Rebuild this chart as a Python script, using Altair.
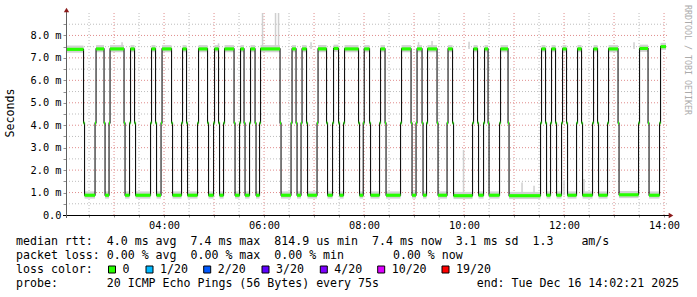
import altair as alt
import pandas as pd

# ---------------- data ----------------
# time in minutes since midnight (Tue Dec 16 2025); window 02:02:21 - 14:02:21
T_START = 122.35
T_END = 842.35

# moments where the median RTT switches between its two levels
SWITCH_MIN = [144, 157.8, 168.6, 174.6, 192.6, 199.2, 205.2, 224.4, 230.4, 237,
              249.6, 261.6, 267.6, 280.8, 292.8, 300, 306, 312, 324.6, 331.2,
              336.6, 343.2, 349.8, 355.2, 379.8, 393, 399, 405, 411.6, 424.2,
              435.6, 442.8, 450, 456, 474, 479.6, 487.2, 499.2, 505.8, 524.4,
              537, 543, 550.2, 555.6, 568.2, 580.2, 586.8, 610.8, 616.8, 624,
              629.4, 643.2, 653.4, 692.4, 698.4, 704.4, 710.4, 717.6, 723.6, 735.6,
              741.6, 754.8, 760.8, 772.8, 785.4, 810, 821.4, 835.2]

# median RTT (ms) of each steady period between switches
LEVELS = [7.38, 0.88, 7.4, 0.88, 7.4, 0.88, 7.4, 0.88, 7.4, 0.88,
          7.4, 0.88, 7.4, 0.88, 7.4, 0.88, 7.4, 0.88, 7.4, 0.88,
          7.4, 0.88, 7.4, 0.88, 7.4, 0.88, 7.4, 0.88, 7.4, 0.88,
          7.4, 0.88, 7.42, 0.88, 7.4, 0.88, 7.4, 0.88, 7.4, 0.88,
          7.4, 0.88, 7.4, 0.88, 7.4, 0.88, 7.4, 0.86, 7.4, 0.88,
          7.4, 0.88, 7.4, 0.86, 7.4, 0.88, 7.4, 0.88, 7.4, 0.88,
          7.4, 0.88, 7.4, 0.88, 7.4, 0.9, 7.42, 0.88, 7.5]

# the single sample in the middle of each switch
TRANSIT_MS = 4.1

# isolated outliers of the ping smoke: time, from, to (ms)
SPIKE_MIN = [189.6, 305.4, 358.2, 373.8, 377.4, 416.4, 545.4, 561.6, 606.0, 599.4, 669.6, 684.0, 720.0, 744.0, 804.0]
SPIKE_FROM = [7.4, 7.4, 7.4, 7.4, 7.4, 7.4, 7.4, 7.4, 7.4, 0.88, 0.88, 0.88, 0.88, 0.88, 7.4]
SPIKE_TO = [7.7, 7.65, 9.0, 9.0, 9.0, 7.7, 7.7, 7.75, 7.72, 2.9, 1.45, 1.3, 1.55, 1.6, 7.7]

X_TICK_MIN = list(range(150, 841, 30))
Y_TICK_MS = [i * 0.5 for i in range(18)]

LEGEND_LINES = [
    "median rtt:  4.0 ms avg  7.4 ms max  814.9 us min  7.4 ms now  3.1 ms sd  1.3    am/s",
    "packet loss: 0.00 % avg  0.00 % max  0.00 % min       0.00 % now",
    "loss color:",
    "probe:       20 ICMP Echo Pings (56 Bytes) every 75s              end: Tue Dec 16 14:02:21 2025",
]
LOSS_LABELS = ["0", "1/20", "2/20", "3/20", "4/20", "10/20", "19/20"]
LOSS_COLORS = ["#26ff00", "#00b8ff", "#0059ff", "#5e00ff", "#7e00ff", "#dd00ff", "#ff0000"]

# ---------------- layout / style ----------------
W, H = 600, 202
MONO = "DejaVu Sans Mono"
HALF = 0.6  # half of one pixel column (minutes)

bounds = [T_START] + SWITCH_MIN + [T_END]
seg_rows, mid_rows = [], []
for i, lvl in enumerate(LEVELS):
    s = bounds[i] + (HALF if i > 0 else 0)
    e = bounds[i + 1] - (HALF if i < len(LEVELS) - 1 else 0)
    seg_rows.append(dict(t0=s, t1=e, lvl=lvl))
for t in SWITCH_MIN:
    mid_rows.append(dict(t0=t - HALF, t1=t + HALF, lvl=TRANSIT_MS))
line_rows = []
for i, seg in enumerate(seg_rows):
    line_rows.append(dict(t=seg["t0"], v=seg["lvl"]))
    if i < len(mid_rows):
        line_rows.append(dict(t=mid_rows[i]["t0"], v=TRANSIT_MS))
line_rows.append(dict(t=T_END, v=LEVELS[-1]))

segs = pd.DataFrame(seg_rows)
mids = pd.DataFrame(mid_rows)
green = pd.concat([segs, mids], ignore_index=True)
line_df = pd.DataFrame(line_rows)
spikes = pd.DataFrame(dict(t=SPIKE_MIN, a=SPIKE_FROM, b=SPIKE_TO))

xs = alt.Scale(domain=[T_START, T_END], nice=False, zero=False)
ys = alt.Scale(domain=[0, 9], nice=False, zero=False)
ONE = pd.DataFrame({"k": [0]})

x_axis = alt.Axis(values=X_TICK_MIN, title=None, grid=False, domain=False,
                  labelExpr="datum.value % 120 == 0 ? (datum.value < 600 ? '0' : '') + floor(datum.value / 60) + ':00' : ''",
                  tickSize=2, tickColor="#909090", labelFont=MONO, labelFontSize=10.3,
                  labelColor="#000000", labelPadding=3, labelFlush=False, labelOverlap=False)
y_axis = alt.Axis(values=Y_TICK_MS, title=None, grid=False, domain=False,
                  labelExpr="datum.value == 0 ? '0.0\u00a0\u00a0' : (datum.value % 1 == 0 ? format(datum.value, '.1f') + ' m' : '')",
                  tickSize=3, tickColor="#909090", labelFont=MONO, labelFontSize=10.3,
                  labelColor="#000000", labelPadding=2, labelOverlap=False)

def X(f):
    return alt.X(f, scale=xs, axis=x_axis)

def Y(f):
    return alt.Y(f, scale=ys, axis=y_axis)

# grid
vmin = pd.DataFrame({"t": [m for m in X_TICK_MIN if m % 60 != 0]})
vmaj = pd.DataFrame({"t": [m for m in X_TICK_MIN if m % 60 == 0]})
hmin = pd.DataFrame({"v": [v for v in Y_TICK_MS if v % 1 != 0]})
hmaj = pd.DataFrame({"v": [v for v in Y_TICK_MS if v % 1 == 0 and v > 0]})

def vgrid(df, color):
    return alt.Chart(df).mark_rule(color=color, strokeWidth=1, strokeDash=[1, 2]).encode(
        x=X("t:Q"), y=alt.value(0), y2=alt.value(H))

def hgrid(df, color):
    return alt.Chart(df).mark_rule(color=color, strokeWidth=1, strokeDash=[1, 2]).encode(
        y=Y("v:Q"), x=alt.value(0), x2=alt.value(W + 2))

grid = [vgrid(vmin, "#bdbdbd"), vgrid(vmaj, "#e08c8c"), hgrid(hmin, "#bdbdbd"), hgrid(hmaj, "#e08c8c")]

smoke = alt.Chart(segs).transform_calculate(
    lo="datum.lvl - 0.15", hi="datum.lvl + 0.17"
).mark_rect(color="#d2d2d2").encode(x=X("t0:Q"), x2="t1:Q", y=Y("lo:Q"), y2="hi:Q")

spike = alt.Chart(spikes).mark_rule(color="#cfcfcf", strokeWidth=1.5).encode(
    x=X("t:Q"), y=Y("a:Q"), y2="b:Q")

median = alt.Chart(line_df).mark_line(interpolate="step-after", color="#111111", strokeWidth=1.1).encode(
    x=X("t:Q"), y=Y("v:Q"))

loss = alt.Chart(green).transform_calculate(
    lo="datum.lvl - 0.07", hi="datum.lvl + 0.07"
).mark_rect(color=LOSS_COLORS[0]).encode(x=X("t0:Q"), x2="t1:Q", y=Y("lo:Q"), y2="hi:Q")

# axes lines and arrows
deco = [
    alt.Chart(ONE).mark_rule(color="#000000", strokeWidth=1).encode(
        x=alt.value(-3), x2=alt.value(W + 4), y=alt.value(H + 0.5)),
    alt.Chart(ONE).mark_rule(color="#606060", strokeWidth=1).encode(
        x=alt.value(0.5), y=alt.value(-2), y2=alt.value(H + 3)),
    alt.Chart(ONE).mark_point(shape="triangle-up", filled=True, color="#8b1a1a", size=28, opacity=1).encode(
        x=alt.value(0.5), y=alt.value(-3)),
    alt.Chart(ONE).mark_point(shape="triangle-right", filled=True, color="#8b1a1a", size=28, opacity=1).encode(
        x=alt.value(W + 5), y=alt.value(H + 0.5)),
]

def txt(s, x, y, size=11.6, color="#000000", angle=None, align="left", baseline="alphabetic"):
    kw = dict(font=MONO, fontSize=size, color=color, align=align, baseline=baseline)
    if angle is not None:
        kw["angle"] = angle
    return alt.Chart(ONE).mark_text(**kw).encode(
        x=alt.value(x), y=alt.value(y), text=alt.value(s.replace(" ", "\u00a0")))

texts = []
for i, line in enumerate(LEGEND_LINES):
    texts.append(txt(line, -50, 232.3 + 14 * i))
SQ_X = [46, 83.5, 141.2, 199.5, 257.8, 315.2, 379.5]
for cx, lab, col in zip(SQ_X, LOSS_LABELS, LOSS_COLORS):
    texts.append(alt.Chart(ONE).mark_square(size=49, filled=True, fill=col, stroke="#000000",
                                            strokeWidth=1, opacity=1).encode(
        x=alt.value(cx), y=alt.value(256.5)))
    texts.append(txt(lab, cx + 10.5, 260.3))
texts.append(txt("Seconds", -55, 100, angle=270, align="center", baseline="middle"))
texts.append(txt("RRDTOOL / TOBI OETIKER", 621, 47, size=8.3, color="#ababab", angle=90,
                 align="center", baseline="middle"))

chart = alt.layer(*grid, smoke, spike, median, loss, *deco, *texts).properties(
    width=W, height=H,
    autosize=alt.AutoSizeParams(type="none"),
    padding={"left": 66, "top": 13, "right": 31, "bottom": 82},
    background="#ffffff",
).configure_view(stroke=None)

chart.save("out.html", embed_options={"renderer": "svg", "actions": False})
